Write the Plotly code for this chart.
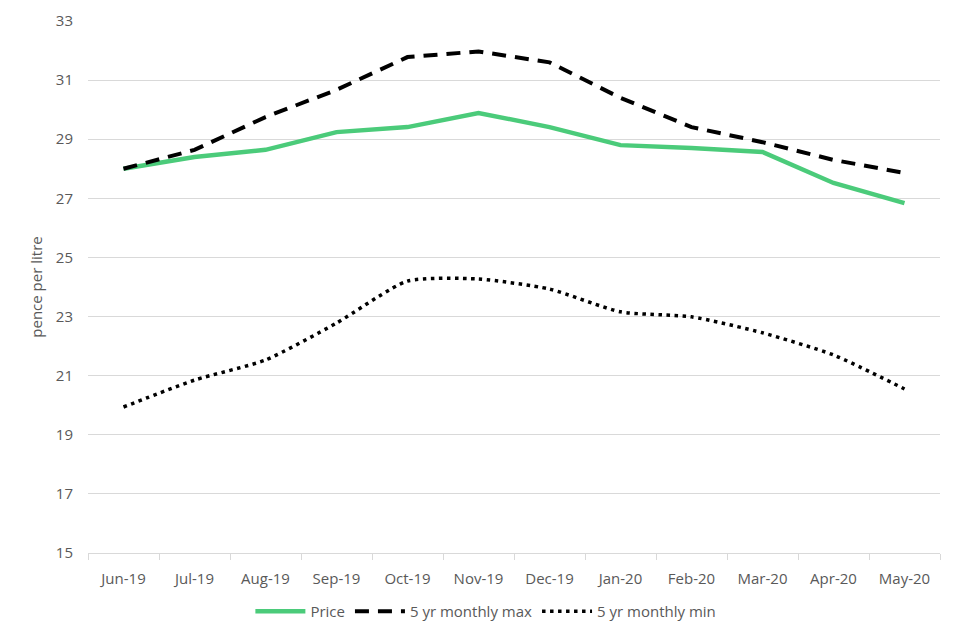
import plotly.graph_objects as go

months = ["Jun-19", "Jul-19", "Aug-19", "Sep-19", "Oct-19", "Nov-19",
          "Dec-19", "Jan-20", "Feb-20", "Mar-20", "Apr-20", "May-20"]
price = [28.0, 28.4, 28.64, 29.24, 29.41, 29.89, 29.41, 28.8, 28.7, 28.57, 27.52, 26.84]
max5 = [28.0, 28.64, 29.75, 30.67, 31.78, 31.97, 31.6, 30.4, 29.41, 28.9, 28.3, 27.86]
min5 = [19.94, 20.85, 21.53, 22.78, 24.2, 24.27, 23.93, 23.16, 22.99, 22.45, 21.7, 20.55]
yticks = [15, 17, 19, 21, 23, 25, 27, 29, 31, 33]

font_fam = "Open Sans, Noto Sans, sans-serif"

fig = go.Figure()
fig.add_trace(go.Scatter(x=months, y=price, name="Price", mode="lines",
                         line=dict(color="#4BCB7A", width=4.5)))
fig.add_trace(go.Scatter(x=months, y=max5, name="5 yr monthly max", mode="lines",
                         line=dict(color="#000000", width=4, dash="14px,9px")))
fig.add_trace(go.Scatter(x=months, y=min5, name="5 yr monthly min", mode="lines",
                         line=dict(color="#000000", width=3.5, dash="3.5px,4.5px",
                                   shape="spline", smoothing=0.6)))

fig.update_layout(
    width=960, height=640,
    margin=dict(l=80, r=28, t=13, b=95),
    paper_bgcolor="white", plot_bgcolor="white",
    font=dict(family=font_fam, size=15, color="#595959"),
    legend=dict(orientation="h", x=0.467, xanchor="center", y=-0.079, yanchor="top",
                font=dict(size=15, color="#595959"), itemwidth=50),
    showlegend=True,
)
fig.update_xaxes(
    type="category", showgrid=False, showline=True, linecolor="#D9D9D9", linewidth=1,
    ticks="outside", tickson="boundaries", ticklen=6, tickcolor="#D9D9D9",
    tickfont=dict(size=15, color="#595959"), range=[-0.5, 11.5],
    automargin=False, ticklabelstandoff=12,
)
fig.update_yaxes(
    range=[15, 33], tickvals=yticks, showgrid=True, gridcolor="#D9D9D9", gridwidth=1,
    zeroline=False, showline=False, ticks="",
    tickfont=dict(size=15, color="#595959"), automargin=False, ticklabelstandoff=14,
    title=dict(text="pence per litre", font=dict(size=15, color="#595959"), standoff=9),
)

fig.write_html("out.html")
